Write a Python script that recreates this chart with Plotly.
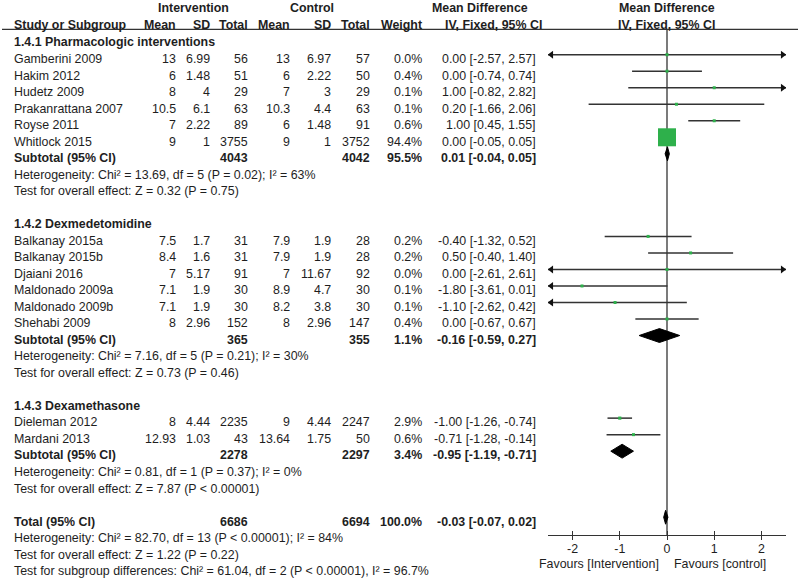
import plotly.graph_objects as go

# ---------------- data ----------------
subgroup_titles = ["1.4.1 Pharmacologic interventions", "1.4.2 Dexmedetomidine", "1.4.3 Dexamethasone"]

study_names = ["Gamberini 2009", "Hakim 2012", "Hudetz 2009", "Prakanrattana 2007", "Royse 2011", "Whitlock 2015",
               "Balkanay 2015a", "Balkanay 2015b", "Djaiani 2016", "Maldonado 2009a", "Maldonado 2009b", "Shehabi 2009",
               "Dieleman 2012", "Mardani 2013"]
study_group = [0, 0, 0, 0, 0, 0, 1, 1, 1, 1, 1, 1, 2, 2]
int_mean = [13, 6, 8, 10.5, 7, 9, 7.5, 8.4, 7, 7.1, 7.1, 8, 8, 12.93]
int_sd = [6.99, 1.48, 4, 6.1, 2.22, 1, 1.7, 1.6, 5.17, 1.9, 1.9, 2.96, 4.44, 1.03]
int_total = [56, 51, 29, 63, 89, 3755, 31, 31, 91, 30, 30, 152, 2235, 43]
ctl_mean = [13, 6, 7, 10.3, 6, 9, 7.9, 7.9, 7, 8.9, 8.2, 8, 9, 13.64]
ctl_sd = [6.97, 2.22, 3, 4.4, 1.48, 1, 1.9, 1.9, 11.67, 4.7, 3.8, 2.96, 4.44, 1.75]
ctl_total = [57, 50, 29, 63, 91, 3752, 28, 28, 92, 30, 30, 147, 2247, 50]
weight_pct = [0.0, 0.4, 0.1, 0.1, 0.6, 94.4, 0.2, 0.2, 0.0, 0.1, 0.1, 0.4, 2.9, 0.6]
md = [0.00, 0.00, 1.00, 0.20, 1.00, 0.00, -0.40, 0.50, 0.00, -1.80, -1.10, 0.00, -1.00, -0.71]
ci_low = [-2.57, -0.74, -0.82, -1.66, 0.45, -0.05, -1.32, -0.40, -2.61, -3.61, -2.62, -0.67, -1.26, -1.28]
ci_high = [2.57, 0.74, 2.82, 2.06, 1.55, 0.05, 0.52, 1.40, 2.61, 0.01, 0.42, 0.67, -0.74, -0.14]

sub_int_total = [4043, 365, 2278]
sub_ctl_total = [4042, 355, 2297]
sub_weight = [95.5, 1.1, 3.4]
sub_md = [0.01, -0.16, -0.95]
sub_low = [-0.04, -0.59, -1.19]
sub_high = [0.05, 0.27, -0.71]
sub_het = ["Heterogeneity: Chi² = 13.69, df = 5 (P = 0.02); I² = 63%",
           "Heterogeneity: Chi² = 7.16, df = 5 (P = 0.21); I² = 30%",
           "Heterogeneity: Chi² = 0.81, df = 1 (P = 0.37); I² = 0%"]
sub_test = ["Test for overall effect: Z = 0.32 (P = 0.75)",
            "Test for overall effect: Z = 0.73 (P = 0.46)",
            "Test for overall effect: Z = 7.87 (P < 0.00001)"]

total_int = 6686
total_ctl = 6694
total_weight = 100.0
total_md = -0.03
total_low = -0.07
total_high = 0.02
total_texts = ["Heterogeneity: Chi² = 82.70, df = 13 (P < 0.00001); I² = 84%",
               "Test for overall effect: Z = 1.22 (P = 0.22)",
               "Test for subgroup differences: Chi² = 61.04, df = 2 (P < 0.00001), I² = 96.7%"]

axis_ticks = [-2, -1, 0, 1, 2]
axis_labels = ["-2", "-1", "0", "1", "2"]
favours_left = "Favours [Intervention]"
favours_right = "Favours [control]"

# ---------------- layout geometry ----------------
W, H = 800, 579
ROW0_PX = 9.43
ROW_H = 16.52
XLIM = 2.52
MARK_OFF = -0.26
FONT = "Liberation Sans, Arial, sans-serif"
FS = 12.4
TXT = "#1e1e1e"
LINE = "#333333"
GREEN = "#2eb04b"


def row_of_px(py):
    return (py - ROW0_PX) / ROW_H


annotations = []


def ann(xpx, row, text, anchor="left", bold=False, size=FS):
    annotations.append(dict(
        x=xpx / W, xref="paper", y=row, yref="y",
        text=f"<b>{text}</b>" if bold else text,
        showarrow=False, xanchor=anchor, yanchor="middle",
        font=dict(family=FONT, size=size, color=TXT),
        borderpad=0,
    ))


def fmt(v):
    return f"{v:g}"


def ci_text(m, lo, hi):
    return f"{m:.2f} [{lo:.2f}, {hi:.2f}]"


COL = dict(name=13, im=177, isd=211, itot=249, cm=291, csd=332, ctot=371, w=423, md=537)

# headers
hdr0 = row_of_px(7.5)
hdr1 = row_of_px(24.5)
ann(193, hdr0, "Intervention", "center", True)
ann(312, hdr0, "Control", "center", True)
ann(480, hdr0, "Mean Difference", "center", True)
ann(667, hdr0, "Mean Difference", "center", True)
ann(COL["name"], hdr1, "Study or Subgroup", "left", True)
ann(COL["im"], hdr1, "Mean", "right", True)
ann(COL["isd"], hdr1, "SD", "right", True)
ann(COL["itot"], hdr1, "Total", "right", True)
ann(COL["cm"], hdr1, "Mean", "right", True)
ann(COL["csd"], hdr1, "SD", "right", True)
ann(COL["ctot"], hdr1, "Total", "right", True)
ann(COL["w"], hdr1, "Weight", "right", True)
ann(493, hdr1, "IV, Fixed, 95% CI", "center", True)
ann(666, hdr1, "IV, Fixed, 95% CI", "center", True)

study_rows = [None] * len(study_names)
sub_rows = []
r = 2
for g, title in enumerate(subgroup_titles):
    ann(COL["name"], r, title, "left", True)
    r += 1
    for i in range(len(study_names)):
        if study_group[i] != g:
            continue
        study_rows[i] = r
        ann(COL["name"], r, study_names[i])
        ann(COL["im"], r, fmt(int_mean[i]), "right")
        ann(COL["isd"], r, fmt(int_sd[i]), "right")
        ann(COL["itot"], r, str(int_total[i]), "right")
        ann(COL["cm"], r, fmt(ctl_mean[i]), "right")
        ann(COL["csd"], r, fmt(ctl_sd[i]), "right")
        ann(COL["ctot"], r, str(ctl_total[i]), "right")
        ann(COL["w"], r, f"{weight_pct[i]:.1f}%", "right")
        ann(COL["md"], r, ci_text(md[i], ci_low[i], ci_high[i]), "right")
        r += 1
    sub_rows.append(r)
    ann(COL["name"], r, "Subtotal (95% CI)", "left", True)
    ann(COL["itot"], r, str(sub_int_total[g]), "right", True)
    ann(COL["ctot"], r, str(sub_ctl_total[g]), "right", True)
    ann(COL["w"], r, f"{sub_weight[g]:.1f}%", "right", True)
    ann(COL["md"], r, ci_text(sub_md[g], sub_low[g], sub_high[g]), "right", True)
    r += 1
    ann(COL["name"], r, sub_het[g])
    r += 1
    ann(COL["name"], r, sub_test[g])
    r += 2

total_row = r
ann(COL["name"], r, "Total (95% CI)", "left", True)
ann(COL["itot"], r, str(total_int), "right", True)
ann(COL["ctot"], r, str(total_ctl), "right", True)
ann(COL["w"], r, f"{total_weight:.1f}%", "right", True)
ann(COL["md"], r, ci_text(total_md, total_low, total_high), "right", True)
for k, t in enumerate(total_texts):
    ann(COL["name"], r + 1 + k, t)

# favours labels
ann(660, row_of_px(564), favours_left, "right")
ann(673, row_of_px(564), favours_right, "left")

fig = go.Figure()

# CI lines
lx, ly = [], []
arrow_r_x, arrow_r_y, arrow_l_x, arrow_l_y = [], [], [], []
for i in range(len(study_names)):
    yy = study_rows[i] + MARK_OFF
    lo = max(ci_low[i], -XLIM)
    hi = min(ci_high[i], XLIM)
    lx += [lo, hi, None]
    ly += [yy, yy, None]
    if ci_low[i] < -XLIM:
        arrow_l_x.append(-XLIM + 0.07)
        arrow_l_y.append(yy)
    if ci_high[i] > XLIM:
        arrow_r_x.append(XLIM - 0.07)
        arrow_r_y.append(yy)
fig.add_trace(go.Scatter(x=lx, y=ly, mode="lines", line=dict(color=LINE, width=1.5),
                         hoverinfo="skip", showlegend=False))
fig.add_trace(go.Scatter(x=arrow_r_x, y=arrow_r_y, mode="markers",
                         marker=dict(symbol="triangle-right", size=7, color="#111111"),
                         hoverinfo="skip", showlegend=False))
fig.add_trace(go.Scatter(x=arrow_l_x, y=arrow_l_y, mode="markers",
                         marker=dict(symbol="triangle-left", size=7, color="#111111"),
                         hoverinfo="skip", showlegend=False))

# squares
max_w = max(weight_pct)
sizes = [max(3.0, 18.0 * (w / max_w) ** 0.5) for w in weight_pct]
fig.add_trace(go.Scatter(x=md, y=[study_rows[i] + MARK_OFF for i in range(len(md))], mode="markers",
                         marker=dict(symbol="square", size=sizes, color=GREEN, opacity=1,
                                     line=dict(width=0)),
                         hoverinfo="skip", showlegend=False))

# diamonds
HALF = 0.42


def diamond(m, lo, hi, row):
    yy = row + MARK_OFF
    fig.add_trace(go.Scatter(x=[lo, m, hi, m, lo], y=[yy, yy - HALF, yy, yy + HALF, yy],
                             mode="lines", fill="toself", fillcolor="#000000",
                             line=dict(color="#000000", width=1),
                             hoverinfo="skip", showlegend=False))


for g in range(len(subgroup_titles)):
    diamond(sub_md[g], sub_low[g], sub_high[g], sub_rows[g])
diamond(total_md, total_low, total_high, total_row)

axis_px = 535
axis_pos = 1 - axis_px / H

shapes = [
    # header rule
    dict(type="line", xref="paper", yref="y", x0=2 / W, x1=798 / W,
         y0=row_of_px(29.3), y1=row_of_px(29.3), line=dict(color=LINE, width=1.3)),
    # line of no effect
    dict(type="line", xref="x", yref="y", x0=0, x1=0, layer="below",
         y0=row_of_px(29.3), y1=row_of_px(axis_px), line=dict(color=LINE, width=1.3)),
]

fig.update_layout(
    template="none",
    width=W, height=H,
    margin=dict(l=0, r=0, t=0, b=0, pad=0, autoexpand=False),
    paper_bgcolor="white", plot_bgcolor="rgba(0,0,0,0)",
    showlegend=False,
    xaxis=dict(domain=[548 / W, 786 / W], range=[-XLIM, XLIM], anchor="free", position=axis_pos,
               automargin=False,
               showgrid=False, zeroline=False, showline=True, linecolor=LINE, linewidth=1.3,
               ticks="outside", ticklen=4, tickwidth=1.3, tickcolor=LINE,
               ticklabelstandoff=-2,
               tickvals=axis_ticks, ticktext=axis_labels,
               tickfont=dict(family=FONT, size=FS, color=TXT)),
    xaxis2=dict(domain=[548 / W, 786 / W], range=[-XLIM, XLIM], anchor="free", position=axis_pos,
                automargin=False,
                overlaying="x", matches="x", showgrid=False, zeroline=False, showline=False,
                ticks="inside", ticklen=4, tickwidth=1.3, tickcolor=LINE,
                tickvals=axis_ticks, showticklabels=False),
    yaxis=dict(domain=[0, 1], range=[row_of_px(H), row_of_px(0)], visible=False, automargin=False),
    annotations=annotations,
    shapes=shapes,
)
# dummy trace to show xaxis2 ticks
fig.add_trace(go.Scatter(x=[None], y=[None], xaxis="x2", yaxis="y", showlegend=False, hoverinfo="skip"))

fig.write_html("out.html", config={"displayModeBar": False},
               post_script="document.body.style.margin='0px';document.body.style.padding='0px';")
